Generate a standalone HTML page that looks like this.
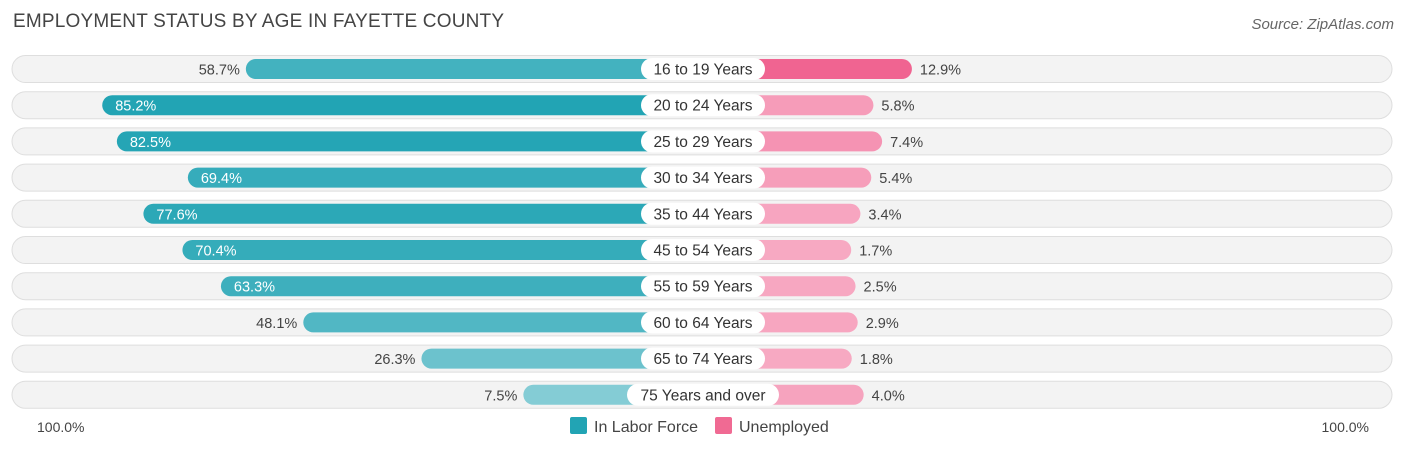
<!DOCTYPE html>
<html><head><meta charset="utf-8"><style>
body{margin:0;width:1406px;height:451px;background:#fff;font-family:"Liberation Sans",sans-serif;overflow:hidden;position:relative}
.t{position:absolute}
</style></head><body>
<div class="t" style="left:13px;top:11px;font-size:19px;color:#444;letter-spacing:0.2px">EMPLOYMENT STATUS BY AGE IN FAYETTE COUNTY</div>
<div class="t" style="right:12px;top:16px;font-size:15px;color:#666;font-style:italic">Source: ZipAtlas.com</div>
<svg id="c" width="1406" height="451" style="position:absolute;left:0;top:0"></svg>
<script>
const categories=["16 to 19 Years","20 to 24 Years","25 to 29 Years","30 to 34 Years","35 to 44 Years","45 to 54 Years","55 to 59 Years","60 to 64 Years","65 to 74 Years","75 Years and over"];
const laborForce=[58.7,85.2,82.5,69.4,77.6,70.4,63.3,48.1,26.3,7.5];
const unemployed=[12.9,5.8,7.4,5.4,3.4,1.7,2.5,2.9,1.8,4.0];
const axisLabels=["100.0%","100.0%"];
const NS="http://www.w3.org/2000/svg";
const svg=document.getElementById('c');
const cx=703,off=139,k=5.42,y0=69,dy=36.2;
function xL(v){return cx-off-v*k;}
function xR(v){return cx+off+v*k;}
function yC(i){return y0+i*dy;}
function mix(a,b,t){return 'rgb('+a.map((x,i)=>Math.round(x+(b[i]-x)*t)).join(',')+')';}
function el(tag,attrs,name,inter){const e=document.createElementNS(NS,tag);for(const a in attrs)e.setAttribute(a,attrs[a]);


svg.appendChild(e);return e;}
const maxL=Math.max(...laborForce),maxU=Math.max(...unemployed);
categories.forEach((c,i)=>{
  const y=yC(i);
  el('rect',{x:12,y:y-13.5,width:1380,height:27,rx:13.5,fill:'#f3f3f3',stroke:'#dedede','stroke-width':1},'row-background','false');
  const lv=laborForce[i],uv=unemployed[i];
  const lx=xL(lv);
  el('rect',{x:lx,y:y-10,width:cx-lx,height:20,rx:10,fill:mix([141,208,216],[34,164,180],lv/maxL)},'bar-labor-force','true');
  const rx=xR(uv);
  el('rect',{x:cx,y:y-10,width:rx-cx,height:20,rx:10,fill:mix([247,170,195],[240,100,145],Math.pow(uv/maxU,2))},'bar-unemployed','true');
  const inside=lv>60;
  const t1=el('text',{x:inside?lx+13:lx-6,y:y+5.5,'font-size':14.5,fill:inside?'#fff':'#444','text-anchor':inside?'start':'end','font-family':'Liberation Sans, sans-serif'},'labor-force-value','false');
  t1.textContent=lv.toFixed(1)+'%';
  const t2=el('text',{x:rx+8,y:y+5.5,'font-size':14.5,fill:'#444','font-family':'Liberation Sans, sans-serif'},'unemployed-value','false');
  t2.textContent=uv.toFixed(1)+'%';
  const w=c.length>14?152:124;
  el('rect',{x:cx-w/2,y:y-11,width:w,height:22,rx:11,fill:'#fff'},'category-pill','false');
  const t3=el('text',{x:cx,y:y+5.5,'font-size':15.5,fill:'#333','text-anchor':'middle','font-family':'Liberation Sans, sans-serif'},'category-label','false');
  t3.textContent=c;
});
const a1=el('text',{x:37,y:432,'font-size':14,fill:'#444','font-family':'Liberation Sans, sans-serif'},'axis-left-label','false');a1.textContent=axisLabels[0];
const a2=el('text',{x:1369,y:432,'font-size':14,fill:'#444','text-anchor':'end','font-family':'Liberation Sans, sans-serif'},'axis-right-label','false');a2.textContent=axisLabels[1];
el('rect',{x:570,y:417,width:17,height:17,rx:2,fill:'#22a4b4'},'legend-swatch-labor','false');
const l1=el('text',{x:594,y:432,'font-size':16,fill:'#444','font-family':'Liberation Sans, sans-serif'},'legend-labor-force','true');l1.textContent='In Labor Force';
el('rect',{x:715,y:417,width:17,height:17,rx:2,fill:'#f06a93'},'legend-swatch-unemployed','false');
const l2=el('text',{x:739,y:432,'font-size':16,fill:'#444','font-family':'Liberation Sans, sans-serif'},'legend-unemployed','true');l2.textContent='Unemployed';
</script>
</body></html>
